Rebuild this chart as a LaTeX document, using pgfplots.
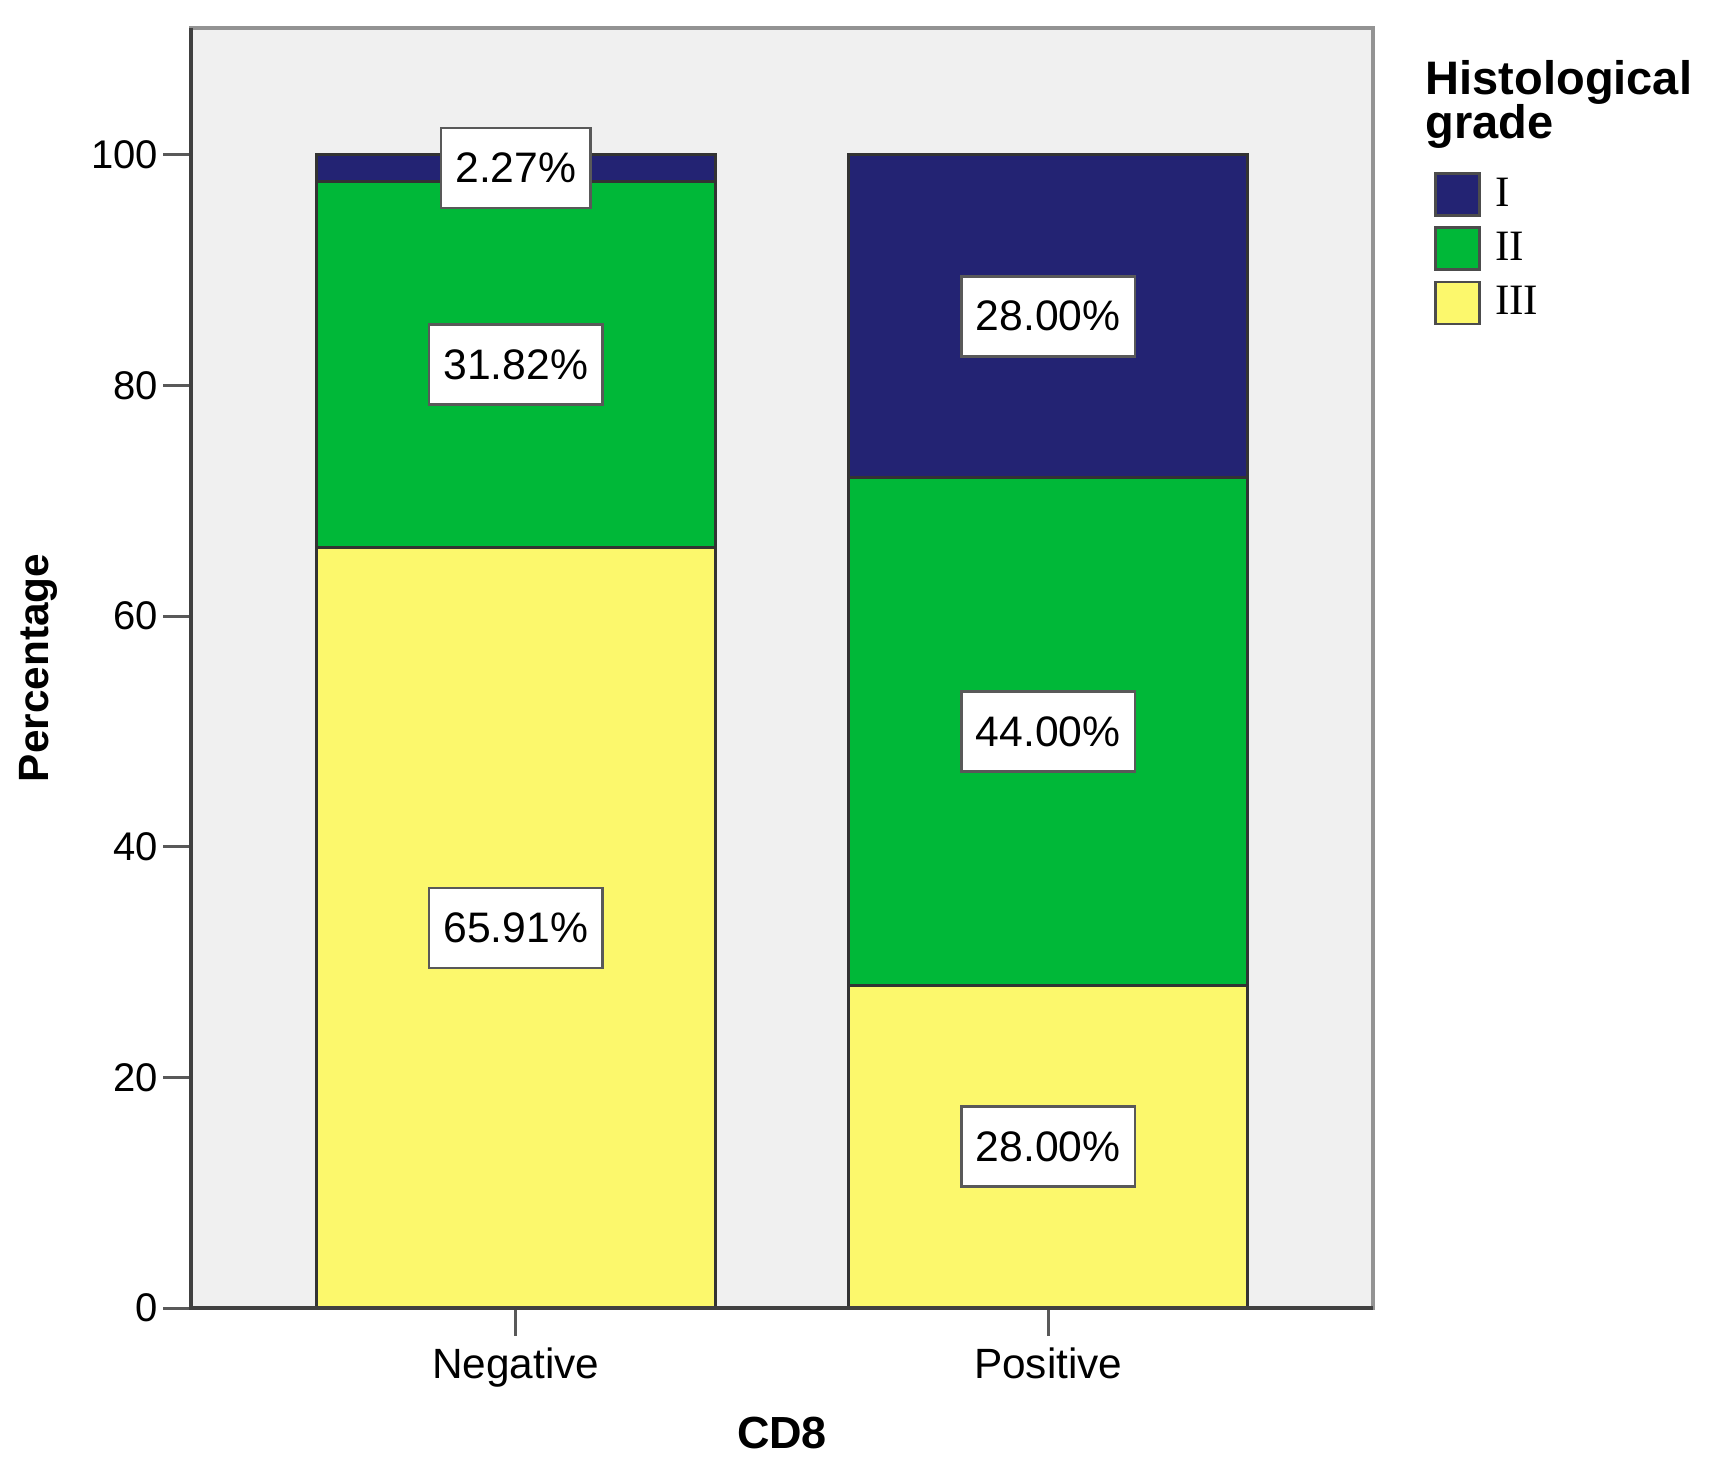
\documentclass[border=0pt]{standalone}
\usepackage{pgfplots}
\pgfplotsset{compat=1.18}
\usepackage{fontspec}
\setmainfont{Liberation Sans}
\newfontfamily\legfont{Liberation Serif}
\definecolor{gI}{RGB}{35,35,115}
\definecolor{gII}{RGB}{0,184,56}
\definecolor{gIII}{RGB}{252,248,108}
\definecolor{bgc}{RGB}{240,240,240}
\begin{document}
\begin{tikzpicture}
\useasboundingbox (-57.3pt,-51.3pt) rectangle (455.4pt,392.4pt);
\begin{axis}[
  at={(0,0)}, anchor=south west, scale only axis,
  width=354.6pt, height=384pt,
  ybar stacked, bar width=0.75,
  xmin=-0.61, xmax=1.61, ymin=0, ymax=111,
  xtick={0,1}, xticklabels={Negative,Positive},
  ytick={0,20,40,60,80,100},
  tick align=outside, major tick length=8.3pt,
  xtick pos=lower, ytick pos=left,
  tick style={draw=black!65, line width=0.9pt},
  axis background/.style={fill=bgc},
  axis line style={draw=gray!85, line width=1pt},
  yticklabel style={font=\fontsize{12}{14}\selectfont, xshift=2pt},
  xticklabel style={font=\fontsize{12.7}{14}\selectfont},
  /pgf/number format/assume math mode=true,
  xlabel={CD8}, ylabel={Percentage},
  xlabel style={font=\bfseries\fontsize{13.5}{15}\selectfont, at={(axis description cs:0.5,-0.0977)}, anchor=center},
  ylabel style={font=\bfseries\fontsize{12.7}{15}\selectfont, at={(axis description cs:-0.1294,0.5)}, anchor=center},
  legend style={draw=none, fill=none, at={(1.0516,0.8875)}, anchor=north west,
    inner sep=0pt, outer sep=0pt, row sep=2.9pt,
    font=\legfont\fontsize{13}{14}\selectfont,
    nodes={inner sep=0pt},
    /tikz/every odd column/.append style={column sep=4.3pt}},
  legend cell align=left, reverse legend,
  legend image code/.code={\draw[#1, draw=black!70, line width=0.8pt] (0pt,-6.3pt) rectangle (13.2pt,6.3pt);},
  after end axis/.code={\draw[black!75, line width=1.3pt] (rel axis cs:0,1) -- (rel axis cs:0,0) -- (rel axis cs:1,0);},
]
\addplot[fill=gIII, draw=black!80, line width=0.9pt] coordinates {(0,65.91) (1,28.00)};
\addplot[fill=gII, draw=black!80, line width=0.9pt] coordinates {(0,31.82) (1,44.00)};
\addplot[fill=gI, draw=black!80, line width=0.9pt] coordinates {(0,2.27) (1,28.00)};
\legend{III,II,I}
\end{axis}
\begin{axis}[
  at={(0,0)}, anchor=south west, scale only axis,
  width=354.6pt, height=384pt,
  xmin=-0.61, xmax=1.61, ymin=0, ymax=111,
  hide axis, clip=false,
  nodes near coords, point meta=explicit symbolic,
  every node near coord/.append style={anchor=center, fill=white, draw=black!65, line width=0.8pt,
    minimum height=24pt, inner xsep=4.3pt, font=\fontsize{12.8}{14}\selectfont},
]
\addplot[draw=none, mark=none] coordinates {(0,32.955)[65.91\%] (0,81.82)[31.82\%] (0,98.865)[2.27\%] (1,14)[28.00\%] (1,50)[44.00\%] (1,86)[28.00\%]};
\node[anchor=north west, inner sep=0pt, align=left, font={\bfseries\fontsize{14.1}{13.3}\selectfont\lineskiplimit=-20pt}] at (rel axis cs:1.044,0.9755) {Histological\\grade};
\end{axis}
\end{tikzpicture}
\end{document}
